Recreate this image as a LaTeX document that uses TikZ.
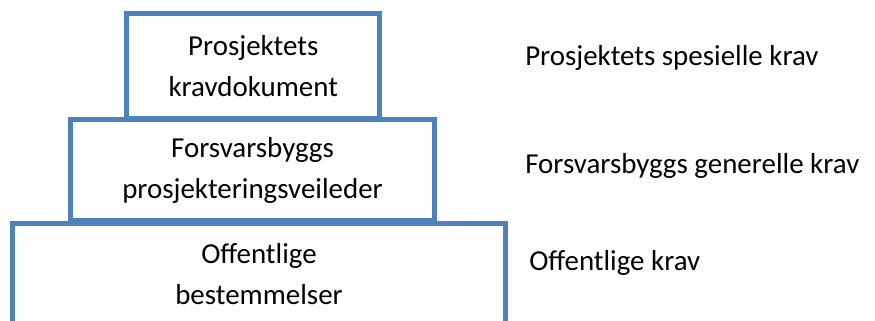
\documentclass[tikz,border=0pt]{standalone}
\usepackage{fontspec}
\setmainfont{Carlito}
\definecolor{boxblue}{RGB}{79,129,189}
\tikzset{
  level/.style={draw=boxblue, line width=3.75pt, align=center, inner sep=0pt,
    font=\fontsize{21.7}{30.75}\selectfont},
  kravtext/.style={anchor=base west, inner sep=0pt, font=\fontsize{21.7}{26}\selectfont}
}

\begin{document}
\begin{tikzpicture}[x=0.75pt,y=0.75pt,yscale=-1,xscale=1]
\useasboundingbox (0,0) rectangle (875,321);
\clip (0,0) rectangle (875,321);

%Levels of the pyramid
\node[level, minimum width=369.75pt, minimum height=77.25pt] (offentlig) at (259,274.5) {Offentlige\\bestemmelser};
\node[level, minimum width=273pt, minimum height=76.1pt] (forsvar) at (252.5,170.25) {Forsvarsbyggs\\prosjekteringsveileder};
\node[level, minimum width=190.1pt, minimum height=78.4pt] (prosjekt) at (253.25,65.75) {Prosjektets\\kravdokument};

%Labels on the right
\node[kravtext] (kravP) at (525,65) {Prosjektets spesielle krav};
\node[kravtext] (kravF) at (525,173) {Forsvarsbyggs generelle krav};
\node[kravtext] (kravO) at (529,270) {Offentlige krav};

\end{tikzpicture}
\end{document}
